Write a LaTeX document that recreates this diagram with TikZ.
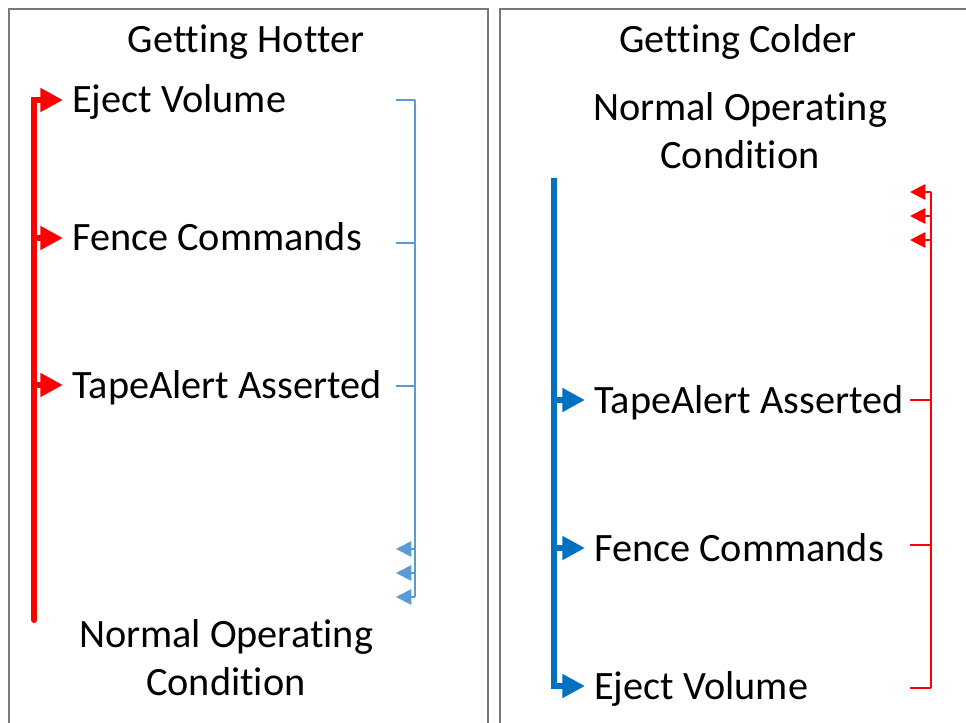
\documentclass[tikz,border=0pt]{standalone}
\usepackage{fontspec}
\setmainfont{Carlito}[Ligatures={NoCommon}]
\usetikzlibrary{arrows.meta,positioning}
\definecolor{hotred}{RGB}{255,0,0}
\definecolor{coldblue}{RGB}{0,112,192}
\definecolor{paleblue}{RGB}{91,155,213}
\definecolor{framegray}{RGB}{120,120,120}

\begin{document}
\begin{tikzpicture}[x=0.75pt, y=-0.75pt]
\tikzset{
	    myframe/.style={draw=framegray, line width=1.5pt},
	    mytitle/.style={align=center, inner sep=0pt, font=\fontsize{30.2}{36}\selectfont},
	    mylabel/.style={anchor=west, inner sep=0pt, text height=19.5pt, text depth=0pt, font=\fontsize{30.2}{36}\selectfont},
	    hotline/.style={-{Triangle[length=17pt,width=17pt]}, draw=hotred, line width=4.5pt, line cap=round, shorten >=6.75pt},
	    coldline/.style={-{Triangle[length=17pt,width=17pt]}, draw=coldblue, line width=4.5pt, shorten >=6.75pt},
	    hotbracket/.style={draw=hotred, line width=1.5pt},
	    coldbracket/.style={draw=paleblue, line width=1.5pt},
	    backtip/.style={-{Triangle[length=11.5pt,width=11.5pt]}}
	}
	\useasboundingbox (0,0) rectangle (966,723);

	% panel frames
	\draw[myframe] (9,730) -- (9,9) -- (488,9) -- (488,730);
	\draw[myframe] (500,730) -- (500,9) -- (970,9);

	% getting hotter
	\node[mytitle] (hotTitle) at (246,42) {Getting Hotter};
	\node[mylabel] (ejectL) at (72,100) {Eject Volume};
	\node[mylabel] (fenceL) at (72,238) {Fence Commands};
	\node[mylabel] (tapeL) at (72,385) {TapeAlert Asserted};
	\node[mytitle] (normalL) at (226,658) {Normal Operating\\Condition};

	\coordinate (hotEnd) at (34,620);
	\draw[hotline] (hotEnd) |- (ejectL.west);
	\foreach \n in {fenceL,tapeL}
	    \draw[hotline] (hotEnd |- \n.west) -- (\n.west);

	\coordinate (hotSpineTop) at (415,100);
	\coordinate (hotSpineBot) at (415,597);
	\draw[coldbracket] (hotSpineTop) -- (hotSpineBot);
	\foreach \y in {100,243,386}
	    \draw[coldbracket] (415,\y) -- ++(-19,0);
	\foreach \y in {549,573,597}
	    \draw[coldbracket,backtip] (415,\y) -- ++(-19,0);

	% getting colder
	\node[mytitle] (coldTitle) at (738,42) {Getting Colder};
	\node[mytitle] (normalR) at (740,131) {Normal Operating\\Condition};
	\node[mylabel] (tapeR) at (594,400) {TapeAlert Asserted};
	\node[mylabel] (fenceR) at (594,548) {Fence Commands};
	\node[mylabel] (ejectR) at (594,686) {Eject Volume};

	\coordinate (coldStart) at (554,178);
	\draw[coldline] (coldStart) |- (ejectR.west);
	\foreach \n in {tapeR,fenceR}
	    \draw[coldline] (coldStart |- \n.west) -- (\n.west);

	\coordinate (coldSpineTop) at (931,192);
	\coordinate (coldSpineBot) at (931,688);
	\draw[hotbracket] (coldSpineTop) -- (coldSpineBot);
	\foreach \y in {400,545,688}
	    \draw[hotbracket] (931,\y) -- ++(-21,0);
	\foreach \y in {192,216,240}
	    \draw[hotbracket,backtip] (931,\y) -- ++(-21,0);

\end{tikzpicture}
\end{document}
